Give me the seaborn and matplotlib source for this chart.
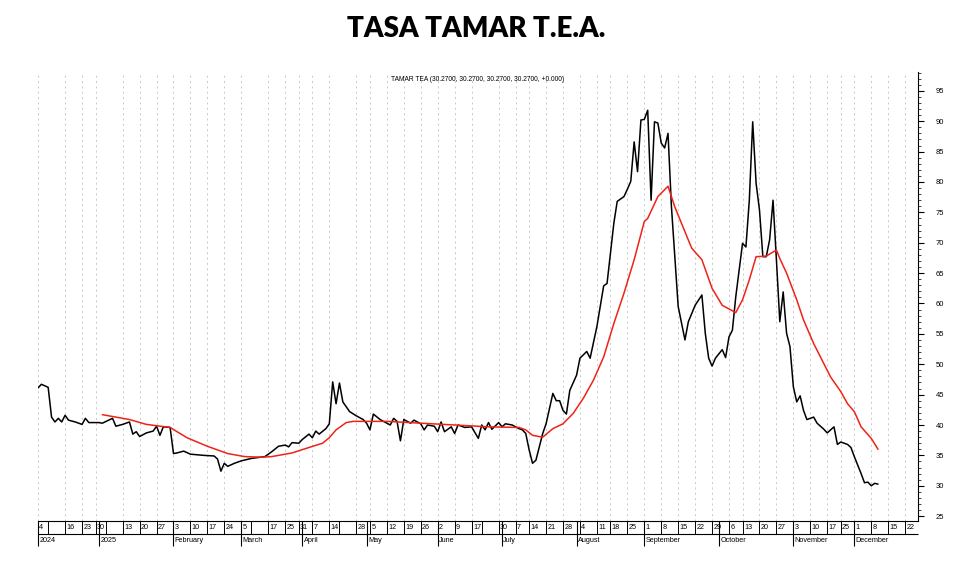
import numpy as np
import pandas as pd
import matplotlib
matplotlib.use("Agg")
import matplotlib.pyplot as plt
from matplotlib.ticker import MultipleLocator
import seaborn as sns

# ---------------- data ----------------
title = "TASA TAMAR T.E.A."
legend_text = "TAMAR TEA (30.2700, 30.2700, 30.2700, 30.2700, +0.000)"

start_date = "2024-12-04"
end_date = "2025-12-31"
holidays = ["2024-12-25", "2024-12-31", "2025-01-01", "2025-03-03", "2025-03-04",
            "2025-03-24", "2025-04-02", "2025-04-17", "2025-04-18", "2025-05-01",
            "2025-06-16", "2025-06-20", "2025-07-09", "2025-08-15", "2025-10-10",
            "2025-11-21", "2025-11-24"]
hidden_week_labels = ["2024-12-09", "2025-01-06", "2025-03-10", "2025-04-21", "2025-06-23"]
month_labels = ["2024", "2025", "February", "March", "April", "May", "June", "July",
                "August", "September", "October", "November", "December"]
y_ticks = [25, 30, 35, 40, 45, 50, 55, 60, 65, 70, 75, 80, 85, 90, 95]

# trading-session number (from the first session) and TAMAR TEA value
black_day = [0, 1, 3, 4, 5, 6, 7, 8, 9, 11, 13, 14, 15, 18, 19, 22, 23, 25, 27, 28,
             29, 30, 32, 34, 35, 36, 37, 39, 40, 41, 43, 45, 49, 52, 53, 54, 55, 56, 58, 60,
             63, 67, 69, 71, 73, 74, 75, 77, 78, 80, 81, 82, 83, 85, 86, 87, 88, 89, 90, 92,
             94, 96, 97, 98, 99, 101, 104, 105, 106, 107, 108, 110, 111, 113, 114, 115, 117, 118, 119, 120,
             122, 123, 124, 126, 128, 130, 131, 132, 133, 134, 136, 137, 138, 140, 142, 143, 144, 145, 146, 147,
             148, 149, 150, 152, 153, 154, 155, 156, 157, 159, 160, 162, 163, 165, 166, 167, 168, 169, 170, 171,
             173, 174, 175, 176, 177, 178, 179, 180, 181, 182, 183, 184, 185, 186, 187, 188, 189, 191, 192, 194,
             196, 197, 198, 199, 200, 202, 203, 204, 205, 206, 208, 209, 210, 211, 212, 213, 214, 215, 216, 217,
             218, 219, 220, 221, 222, 223, 224, 225, 226, 227, 229, 230, 232, 233, 235, 236, 237, 239, 240, 241,
             243, 244, 245, 246, 247, 248]
black_value = [46.1, 46.7, 46.2, 41.3, 40.5, 41.1, 40.5, 41.6, 40.8, 40.5, 40.1, 41.1, 40.4, 40.4, 40.3, 41.1, 39.8, 40.1, 40.5, 38.5,
               38.9, 38.1, 38.7, 39.0, 39.8, 38.3, 39.7, 39.6, 35.3, 35.4, 35.7, 35.2, 35.0, 34.9, 34.4, 32.4, 33.7, 33.2, 33.7, 34.1,
               34.5, 34.8, 35.6, 36.5, 36.7, 36.4, 37.1, 37.0, 37.6, 38.5, 37.9, 39.0, 38.5, 39.4, 40.2, 47.1, 43.5, 46.9, 43.8, 42.2,
               41.5, 40.9, 40.3, 39.2, 41.8, 40.9, 40.0, 41.1, 40.6, 37.4, 40.9, 40.3, 40.8, 40.2, 39.2, 40.0, 39.8, 38.9, 40.5, 38.9,
               39.7, 38.6, 40.0, 39.6, 39.7, 37.8, 40.0, 39.2, 40.4, 39.3, 40.4, 39.7, 40.2, 40.0, 39.4, 39.2, 38.6, 35.9, 33.7, 34.2,
               36.4, 38.6, 40.2, 45.2, 44.0, 44.0, 42.4, 41.8, 45.7, 48.2, 51.0, 52.1, 51.0, 56.2, 59.5, 62.9, 63.3, 68.3, 73.2, 76.8,
               77.6, 78.8, 80.1, 86.6, 81.7, 90.2, 90.3, 91.8, 77.0, 89.9, 89.7, 86.4, 85.6, 88.0, 76.0, 67.7, 59.5, 54.0, 57.0, 59.7,
               61.4, 55.1, 51.0, 49.7, 51.0, 52.4, 51.1, 54.5, 55.6, 61.1, 69.9, 69.3, 77.0, 89.9, 79.8, 75.4, 67.7, 67.7, 70.5, 77.0,
               67.2, 57.0, 61.9, 55.1, 52.9, 46.3, 43.8, 44.8, 42.4, 40.9, 41.3, 40.3, 39.3, 38.7, 39.7, 36.8, 37.2, 36.8, 36.3, 34.8,
               32.0, 30.5, 30.6, 30.0, 30.4, 30.27]

red_day = [19, 27, 32, 39, 44, 50, 56, 61, 66, 69, 75, 80, 84, 86, 88, 91, 93, 103, 113, 123,
           133, 142, 144, 146, 149, 152, 155, 158, 161, 164, 167, 170, 173, 176, 179, 180, 183, 186, 188, 191,
           193, 196, 199, 202, 206, 208, 210, 212, 215, 218, 219, 221, 224, 226, 229, 232, 234, 237, 239, 241,
           243, 246, 248]
red_value = [41.7, 40.9, 40.1, 39.6, 37.9, 36.5, 35.3, 34.8, 34.7, 34.8, 35.4, 36.3, 37.0, 37.9, 39.2, 40.4, 40.6, 40.6, 40.3, 40.0,
             39.7, 39.6, 39.2, 38.3, 38.0, 39.4, 40.2, 41.9, 44.4, 47.4, 51.2, 56.7, 61.7, 67.2, 73.5, 74.0, 77.6, 79.3, 75.9, 71.8,
             69.1, 67.2, 62.5, 59.7, 58.5, 60.6, 63.9, 67.7, 67.8, 68.8, 67.4, 65.0, 60.6, 57.3, 53.4, 50.1, 47.9, 45.5, 43.5, 42.2,
             39.7, 37.8, 36.0]

# ---------------- calendar of sessions ----------------
cal = pd.bdate_range(start_date, end_date)
cal = cal[~cal.isin(pd.to_datetime(holidays))]
x_max = 259.8
n = len(cal)
week_idx, week_lab = [], []
month_idx = []
for i in range(n):
    if i > x_max:
        break
    d = cal[i]
    if i == 0 or d.to_period("W") != cal[i - 1].to_period("W"):
        week_idx.append(i)
        week_lab.append("" if d.strftime("%Y-%m-%d") in hidden_week_labels else str(d.day))
    if i == 0 or d.month != cal[i - 1].month:
        month_idx.append(i)
grid_idx = [i for i, lab in zip(week_idx, week_lab) if lab]

# ---------------- plot ----------------
sns.set_theme(style="white")
plt.rcParams["font.family"] = ["Liberation Sans", "DejaVu Sans"]

fig = plt.figure(figsize=(9.8, 5.67), dpi=100)
ax = fig.add_axes([38 / 980, 46 / 567, 880 / 980, 449 / 567])

df_b = pd.DataFrame({"day": black_day, "value": black_value})
df_r = pd.DataFrame({"day": red_day, "value": red_value})
sns.lineplot(data=df_b, x="day", y="value", color="black", lw=1.1, estimator=None, ax=ax, zorder=3)
sns.lineplot(data=df_r, x="day", y="value", color="#ee2318", lw=1.1, estimator=None, ax=ax, zorder=4)

ax.set_xlim(0, x_max)
ax.set_ylim(24.2, 98.1)
ax.set_xlabel("")
ax.set_ylabel("")

# vertical dotted grid at labelled weeks
ax.set_xticks(grid_idx)
ax.set_xticklabels([])
ax.tick_params(axis="x", length=0)
ax.grid(axis="x", color="#c8c8c8", linestyle=(0, (2.0, 3.5)), linewidth=0.7)
ax.grid(axis="y", visible=False)

# right price axis
ax.yaxis.tick_right()
ax.set_yticks(y_ticks)
ax.yaxis.set_minor_locator(MultipleLocator(1))
ax.tick_params(axis="y", which="major", length=4, width=0.8, direction="out",
               pad=9, labelsize=5.5, colors="black", right=True, left=False)
ax.tick_params(axis="y", which="minor", length=2, width=0.6, direction="out",
               right=True, left=False)

for s in ["left", "top"]:
    ax.spines[s].set_visible(False)
for s in ["right", "bottom"]:
    ax.spines[s].set_color("black")
    ax.spines[s].set_linewidth(0.8)

# date boxes under the axis
trans = ax.get_xaxis_transform()
box_h = 13 / 449
month_h = 25 / 449
ax.vlines(week_idx, -box_h, 0, transform=trans, colors="black", lw=0.7, clip_on=False)
ax.hlines(-box_h, 0, x_max, transform=trans, colors="black", lw=0.8, clip_on=False)
ax.vlines(month_idx, -month_h, 0, transform=trans, colors="black", lw=0.8, clip_on=False)
for i, lab in zip(week_idx, week_lab):
    if lab:
        ax.text(i + 0.4, -box_h / 2, lab, transform=trans, ha="left", va="center",
                fontsize=5.2, color="black", clip_on=False)
for i, lab in zip(month_idx, month_labels):
    ax.text(i + 0.4, -0.043, lab, transform=trans, ha="left", va="center",
            fontsize=5.2, color="black", clip_on=False)

ax.text(0.5, 0.984, legend_text, transform=ax.transAxes, ha="center", va="center",
        fontsize=4.8, color="black")

fig.text(0.486, 1 - 29 / 567, title, ha="center", va="center", fontsize=20,
         fontweight="heavy", family=["Lato", "DejaVu Sans"], color="black")

fig.savefig("out.png", dpi=100, facecolor="white")
